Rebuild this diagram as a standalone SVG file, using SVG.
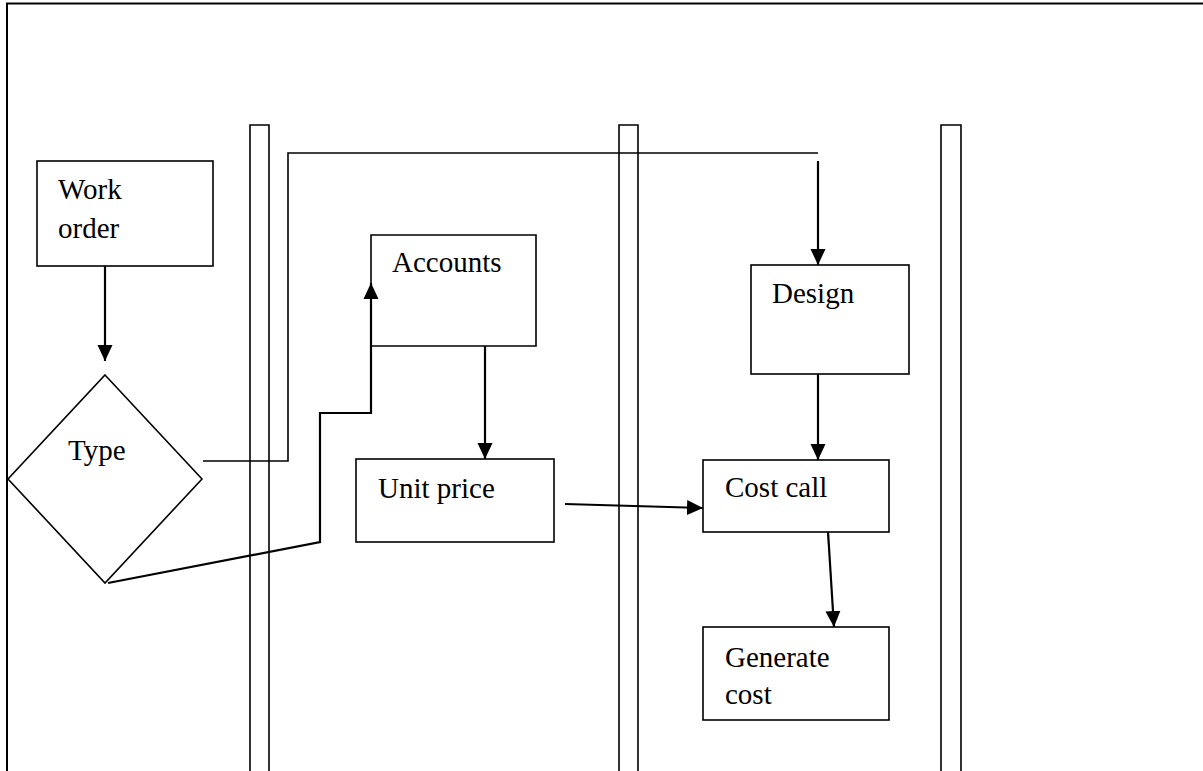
<svg xmlns="http://www.w3.org/2000/svg" width="1203" height="771" viewBox="0 0 1203 771">
  <style>
    .frame { fill: none; stroke: #000; stroke-width: 2; }
    .lane { fill: #fff; stroke: #000; stroke-width: 1.6; }
    .box { fill: #fff; stroke: #000; stroke-width: 1.6; }
    .wire { fill: none; stroke: #000; stroke-width: 2.2; }
    .thin { fill: none; stroke: #000; stroke-width: 1.6; }
    .label { font-family: "Liberation Serif", "Times New Roman", serif; font-size: 29px; fill: #000; }
  </style>
  <defs>
    <marker id="arrow" viewBox="0 0 10 10" refX="10" refY="5" markerWidth="16" markerHeight="16" markerUnits="userSpaceOnUse" orient="auto">
      <path d="M0,0.3 L10,5 L0,9.7 Z" fill="#000"/>
    </marker>
  </defs>

  <rect width="1203" height="771" fill="#fff"/>

  <!-- outer frame: top and left edges -->
  <path class="frame" d="M7,771 L7,3.5 L1203,3.5"/>

  <!-- swim lane separators -->
  <g id="lanes">
    <path class="lane" d="M250,771 L250,125 L269,125 L269,771"/>
    <path class="lane" d="M619,771 L619,125 L638,125 L638,771"/>
    <path class="lane" d="M941,771 L941,125 L961,125 L961,771"/>
  </g>

  <g id="work-order">
    <rect class="box" x="37" y="161" width="176" height="105"/>
    <text class="label" x="58" y="199">Work</text>
    <text class="label" x="58" y="238">order</text>
  </g>

  <g id="type">
    <path class="box" d="M105,375 L202,479 L105,583 L8,479 Z"/>
    <text class="label" x="68" y="460">Type</text>
  </g>

  <g id="accounts">
    <path class="box" d="M371,346 L371,235 L536,235 L536,346 Z"/>
    <text class="label" x="392" y="272">Accounts</text>
  </g>

  <g id="unit-price">
    <rect class="box" x="356" y="459" width="198" height="83"/>
    <text class="label" x="378" y="498">Unit price</text>
  </g>

  <g id="design">
    <rect class="box" x="751" y="265" width="158" height="109"/>
    <text class="label" x="772" y="303">Design</text>
  </g>

  <g id="cost-call">
    <rect class="box" x="703" y="460" width="186" height="72"/>
    <text class="label" x="725" y="497">Cost call</text>
  </g>

  <g id="generate-cost">
    <rect class="box" x="703" y="627" width="186" height="93"/>
    <text class="label" x="725" y="667">Generate</text>
    <text class="label" x="725" y="704">cost</text>
  </g>

  <!-- connectors -->
  <g id="connectors">
    <line class="wire" x1="105" y1="266" x2="105" y2="361" marker-end="url(#arrow)"/>
    <path class="thin" d="M203,461 L288,461 L288,153 L818,153"/>
    <line class="wire" x1="818" y1="161" x2="818" y2="265" marker-end="url(#arrow)"/>
    <path class="wire" d="M108,583 L320,542 L320,413 L371,413 L371,283" marker-end="url(#arrow)"/>
    <line class="wire" x1="485" y1="346" x2="485" y2="459" marker-end="url(#arrow)"/>
    <line class="wire" x1="565" y1="504" x2="703" y2="508" marker-end="url(#arrow)"/>
    <line class="wire" x1="818" y1="374" x2="818" y2="460" marker-end="url(#arrow)"/>
    <line class="wire" x1="828" y1="532" x2="834" y2="627" marker-end="url(#arrow)"/>
  </g>
</svg>
